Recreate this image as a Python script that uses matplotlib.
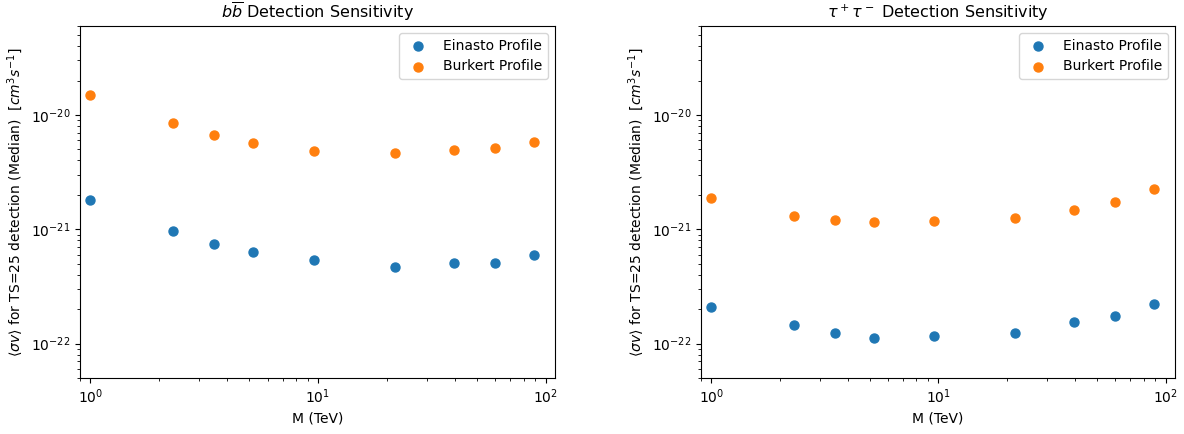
import matplotlib
matplotlib.use("Agg")
import matplotlib.pyplot as plt

masses = [1.0, 2.3, 3.5, 5.2, 9.6, 21.8, 39.7, 59.7, 88.8]

bb_einasto = [1.82e-21, 9.6e-22, 7.5e-22, 6.3e-22, 5.4e-22, 4.67e-22, 5.12e-22, 5.12e-22, 5.97e-22]
bb_burkert = [1.50e-20, 8.46e-21, 6.74e-21, 5.66e-21, 4.85e-21, 4.66e-21, 4.95e-21, 5.15e-21, 5.78e-21]

tau_einasto = [2.08e-22, 1.44e-22, 1.24e-22, 1.12e-22, 1.16e-22, 1.24e-22, 1.56e-22, 1.75e-22, 2.24e-22]
tau_burkert = [1.87e-21, 1.31e-21, 1.21e-21, 1.15e-21, 1.17e-21, 1.26e-21, 1.47e-21, 1.74e-21, 2.23e-21]

titles = [r"$b\overline{b}$ Detection Sensitivity", r"$\tau^+\tau^-$ Detection Sensitivity"]
ylabel = r"$\langle\sigma v\rangle$ for TS=25 detection (Median)  $[cm^3s^{-1}]$"
xlabel = "M (TeV)"

W, H = 1184, 434
fig = plt.figure(figsize=(W / 100, H / 100), dpi=100)
ax1 = fig.add_axes([80 / W, 1 - 378 / H, 475 / W, 352 / H])
ax2 = fig.add_axes([701 / W, 1 - 378 / H, 474 / W, 352 / H])

for ax, ein, bur, title in [(ax1, bb_einasto, bb_burkert, titles[0]),
                            (ax2, tau_einasto, tau_burkert, titles[1])]:
    ax.scatter(masses, ein, color="#1f77b4", label="Einasto Profile", s=42)
    ax.scatter(masses, bur, color="#ff7f0e", label="Burkert Profile", s=42)
    ax.set_xscale("log")
    ax.set_yscale("log")
    ax.set_xlim(0.9, 110)
    ax.set_ylim(5e-23, 6e-20)
    ax.set_title(title, fontsize=11.5)
    ax.set_xlabel(xlabel)
    ax.set_ylabel(ylabel)
    ax.legend(loc="upper right")

fig.savefig("out.png", dpi=100)
